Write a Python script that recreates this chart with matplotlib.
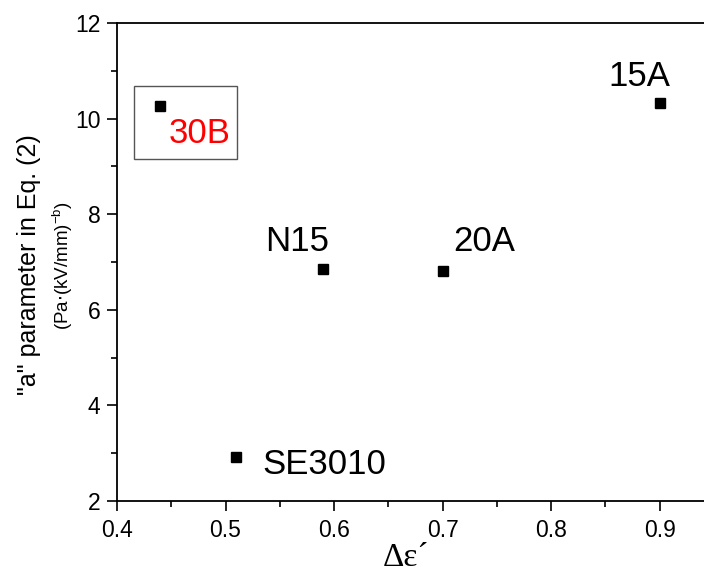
import matplotlib
matplotlib.use("Agg")
import matplotlib.pyplot as plt
from matplotlib.patches import Rectangle
from matplotlib.ticker import MultipleLocator

# data
names = ["30B", "SE3010", "N15", "20A", "15A"]
delta_eps = [0.44, 0.51, 0.59, 0.70, 0.90]
a_param = [10.26, 2.93, 6.85, 6.81, 10.33]
label_offsets = [(28, -20), (63, -6), (-19, 20), (30, 21), (-15, 19)]  # points
label_colors = ["red", "black", "black", "black", "black"]

plt.rcParams['font.family'] = ['Liberation Sans', 'DejaVu Sans']

fig = plt.figure(figsize=(7.04, 5.79), dpi=100)
ax = fig.add_axes([117/704, 78/579, 597/704, 478/579])

ax.plot(delta_eps, a_param, 's', color='black', markersize=7, linestyle='none')

for n, x, y, off, c in zip(names, delta_eps, a_param, label_offsets, label_colors):
    ax.annotate(n, (x, y), xytext=off, textcoords='offset points',
                ha='center', va='center', fontsize=25, color=c)

# box around 30B
ax.add_patch(Rectangle((0.0285, 0.7155), 0.1725, 0.153, transform=ax.transAxes,
                       fill=False, edgecolor='#555555', linewidth=1.0))

ax.set_xlim(0.4, 0.95)
ax.set_ylim(2, 12)
ax.xaxis.set_major_locator(MultipleLocator(0.1))
ax.xaxis.set_minor_locator(MultipleLocator(0.05))
ax.yaxis.set_major_locator(MultipleLocator(2))
ax.yaxis.set_minor_locator(MultipleLocator(1))
ax.tick_params(which='both', direction='out', width=1.2, labelsize=16.5)
ax.tick_params(which='major', length=7)
ax.tick_params(which='minor', length=4)
ax.tick_params(axis='x', which='major', pad=6)
ax.tick_params(axis='y', which='major', pad=5)
for s in ax.spines.values():
    s.set_linewidth(1.3)
ax.spines['right'].set_visible(False)

fig.text(406/704, 1 - 558/579, "Δε´", family=['Liberation Serif', 'DejaVu Serif'],
         fontsize=24, ha='center', va='center')
fig.text(29/704, 1 - 265/579, '"a" parameter in Eq. (2)', rotation=90,
         ha='center', va='center', fontsize=18)
fig.text(63/704, 1 - 266/579, r'(Pa$\cdot$(kV/mm)$^{\mathregular{-b}}$)', rotation=90,
         ha='center', va='center', fontsize=13.5)

fig.savefig("out.png", dpi=100)
